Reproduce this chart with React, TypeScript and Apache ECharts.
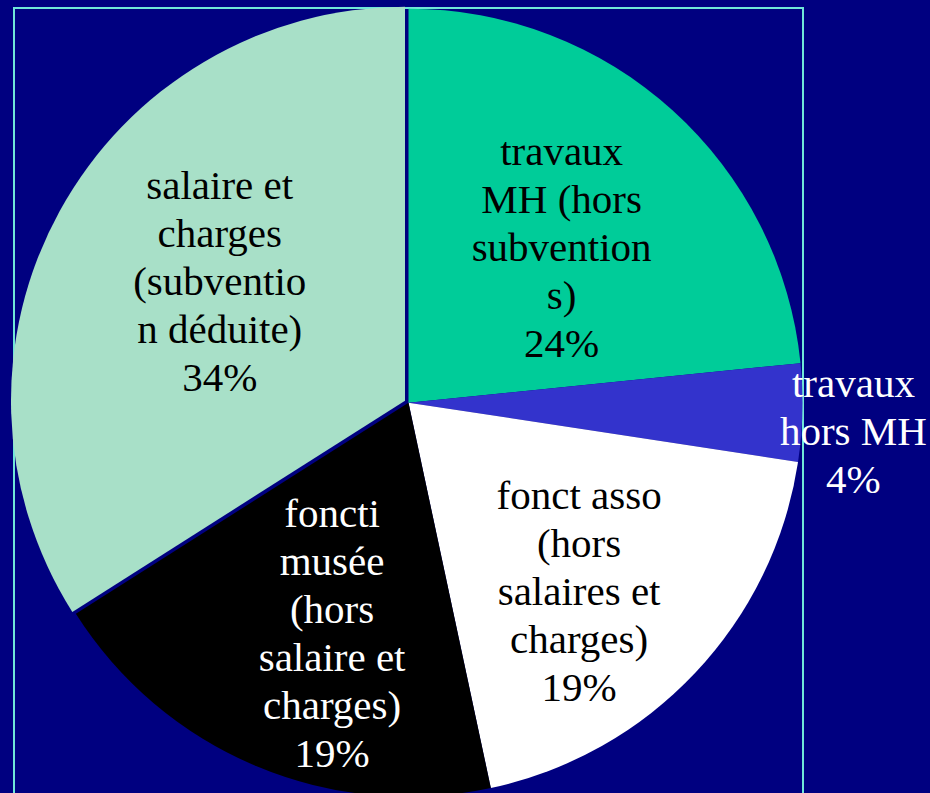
import React, { useEffect, useRef } from "react";
import * as echarts from "echarts";

const categories = [
  "travaux\nMH (hors\nsubvention\ns)",
  "travaux\nhors MH",
  "fonct asso\n(hors\nsalaires et\ncharges)",
  "foncti\nmusée\n(hors\nsalaire et\ncharges)",
  "salaire et\ncharges\n(subventio\nn déduite)",
];
const values = [23.4, 4.0, 19.25, 19.35, 34.0];
const percentLabels = ["24%", "4%", "19%", "19%", "34%"];
const sliceColors = ["#00cc99", "#3333cc", "#ffffff", "#000000", "#a8e0c8"];
const labelColors = ["#000000", "#ffffff", "#000000", "#ffffff", "#000000"];
const labelNudges = [
  [19, -7],
  [245, 23],
  [25, 51],
  [1, 46],
  [-10, -23],
];

export default function App() {
  const ref = useRef<HTMLDivElement>(null);
  useEffect(() => {
    if (!ref.current) return;
    const chart = echarts.init(ref.current, undefined, { renderer: "svg" });
    chart.setOption({
      animation: false,
      backgroundColor: "#000080",
      graphic: [
        {
          type: "rect",
          z: 0,
          shape: { x: 14, y: 8, width: 789, height: 820 },
          style: { fill: "none", stroke: "#70e6d8", lineWidth: 2 },
        },
      ],
      series: [
        {
          type: "pie",
          z: 2,
          center: [408.5, 402.7],
          radius: [0, 394],
          startAngle: 90,
          clockwise: true,
          selectedMode: "single",
          selectedOffset: 4,
          avoidLabelOverlap: false,
          emphasis: { disabled: true },
          label: {
            show: true,
            position: "inside",
            fontFamily: "Liberation Serif",
            fontSize: 41,
            lineHeight: 48,
            align: "center",
            formatter: (p: any) => categories[p.dataIndex] + "\n" + percentLabels[p.dataIndex],
          },
          labelLine: { show: false },
          labelLayout: (p: any) => ({
            dx: labelNudges[p.dataIndex][0],
            dy: labelNudges[p.dataIndex][1],
          }),
          data: values.map((v, i) => ({
            value: v,
            name: categories[i],
            selected: i === 4,
            itemStyle: { color: sliceColors[i], borderWidth: 0 },
            label: { color: labelColors[i] },
          })),
        },
      ],
    });
    return () => chart.dispose();
  }, []);
  return (
    <div
      ref={ref}
      style={{ position: "fixed", left: 0, top: 0, width: 930, height: 793 }}
    />
  );
}
